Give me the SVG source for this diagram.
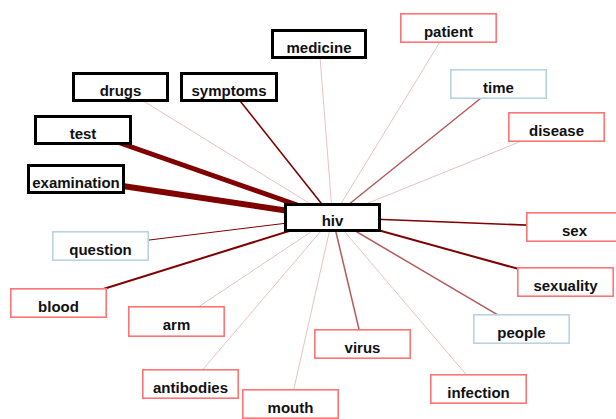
<svg xmlns="http://www.w3.org/2000/svg" width="616" height="419" viewBox="0 0 616 419">
<style>
.n rect{fill:#fff}
.b rect{stroke:#000;stroke-width:3}
.r rect{stroke:#ff7474;stroke-width:1.6}
.u rect{stroke:#b9d3e2;stroke-width:1.6}
.n text{font-family:"Liberation Sans",Arial,sans-serif;font-weight:bold;font-size:15px;text-anchor:middle;fill:#111}
.e line{fill:none}
.d{stroke:#800000}
.m{stroke:#b35c5c}
.l{stroke:#e6c3c3}
</style>
<rect width="616" height="419" fill="#fff"/>
<g id="edges" class="e">
<line class="d" x1="83" y1="130" x2="332.5" y2="217.5" stroke-width="5"/>
<line class="d" x1="76" y1="179" x2="332.5" y2="217.5" stroke-width="6"/>
<line class="d" x1="229" y1="87" x2="332.5" y2="217.5" stroke-width="1.6"/>
<line class="l" x1="120.5" y1="87" x2="332.5" y2="217.5" stroke-width="1"/>
<line class="l" x1="319" y1="44" x2="332.5" y2="217.5" stroke-width="1"/>
<line class="l" x1="448.5" y1="28" x2="332.5" y2="217.5" stroke-width="1"/>
<line class="m" x1="498.5" y1="84" x2="332.5" y2="217.5" stroke-width="1.5"/>
<line class="l" x1="556.5" y1="127" x2="332.5" y2="217.5" stroke-width="1"/>
<line class="d" x1="100.5" y1="246" x2="332.5" y2="217.5" stroke-width="1"/>
<line class="d" x1="58.5" y1="303" x2="332.5" y2="217.5" stroke-width="2"/>
<line class="l" x1="176.5" y1="321.5" x2="332.5" y2="217.5" stroke-width="1"/>
<line class="l" x1="190.5" y1="384" x2="332.5" y2="217.5" stroke-width="1"/>
<line class="l" x1="290.5" y1="404" x2="332.5" y2="217.5" stroke-width="1"/>
<line class="m" x1="362.5" y1="344" x2="332.5" y2="217.5" stroke-width="1.5"/>
<line class="l" x1="478.5" y1="389" x2="332.5" y2="217.5" stroke-width="1"/>
<line class="m" x1="521.5" y1="329" x2="332.5" y2="217.5" stroke-width="1.5"/>
<line class="d" x1="565.5" y1="282" x2="332.5" y2="217.5" stroke-width="2"/>
<line class="d" x1="574.5" y1="227" x2="332.5" y2="217.5" stroke-width="1.6"/>
</g>
<g id="medicine" class="n b"><rect x="272.5" y="30.5" width="93" height="27"/><text x="319" y="52.5">medicine</text></g>
<g id="drugs" class="n b"><rect x="73.5" y="73.5" width="94" height="27"/><text x="120.5" y="95.5">drugs</text></g>
<g id="symptoms" class="n b"><rect x="181.5" y="73.5" width="95" height="27"/><text x="229" y="95.5">symptoms</text></g>
<g id="test" class="n b"><rect x="35.5" y="116.5" width="95" height="27"/><text x="83" y="138.5">test</text></g>
<g id="examination" class="n b"><rect x="28.5" y="165.5" width="95" height="27"/><text x="76" y="187.5">examination</text></g>
<g id="hiv" class="n b"><rect x="285.5" y="204.5" width="94" height="26"/><text x="332.5" y="226">hiv</text></g>
<g id="patient" class="n r"><rect x="400.8" y="13.8" width="95.4" height="28.4"/><text x="448.5" y="36.5">patient</text></g>
<g id="time" class="n u"><rect x="450.8" y="69.8" width="95.4" height="28.4"/><text x="498.5" y="92.5">time</text></g>
<g id="disease" class="n r"><rect x="508.8" y="112.8" width="95.4" height="28.4"/><text x="556.5" y="135.5">disease</text></g>
<g id="question" class="n u"><rect x="52.8" y="231.8" width="95.4" height="28.4"/><text x="100.5" y="254.5">question</text></g>
<g id="blood" class="n r"><rect x="10.8" y="288.8" width="95.4" height="28.4"/><text x="58.5" y="311.5">blood</text></g>
<g id="arm" class="n r"><rect x="128.8" y="306.8" width="95.4" height="29.4"/><text x="176.5" y="330">arm</text></g>
<g id="antibodies" class="n r"><rect x="142.8" y="369.8" width="95.4" height="28.4"/><text x="190.5" y="392.5">antibodies</text></g>
<g id="mouth" class="n r"><rect x="242.8" y="389.8" width="95.4" height="28.4"/><text x="290.5" y="412.5">mouth</text></g>
<g id="sex" class="n r"><rect x="526.8" y="212.8" width="95.4" height="28.4"/><text x="574.5" y="235.5">sex</text></g>
<g id="sexuality" class="n r"><rect x="517.8" y="267.8" width="95.4" height="28.4"/><text x="565.5" y="290.5">sexuality</text></g>
<g id="people" class="n u"><rect x="473.8" y="314.8" width="95.4" height="28.4"/><text x="521.5" y="337.5">people</text></g>
<g id="virus" class="n r"><rect x="314.8" y="329.8" width="95.4" height="28.4"/><text x="362.5" y="352.5">virus</text></g>
<g id="infection" class="n r"><rect x="430.8" y="374.8" width="95.4" height="28.4"/><text x="478.5" y="397.5">infection</text></g>
</svg>
